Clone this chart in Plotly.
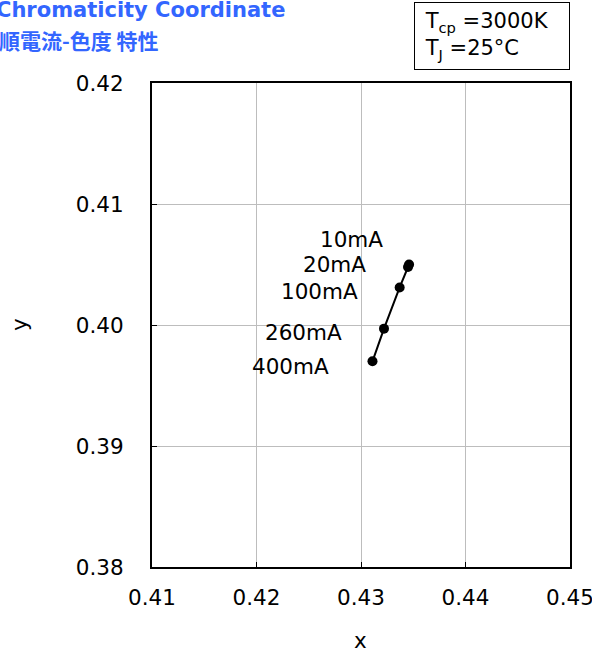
import plotly.graph_objects as go

currents = ["10mA", "20mA", "100mA", "260mA", "400mA"]
cx = [0.4346, 0.4345, 0.4337, 0.4322, 0.4311]
cy = [0.4050, 0.4048, 0.4031, 0.3997, 0.3970]
label_dx = [-24, -40, -40, -40, -41]
label_dy = [25, 2, -4, -4, -5]

x_ticks = [0.41, 0.42, 0.43, 0.44, 0.45]
y_ticks = [0.38, 0.39, 0.40, 0.41, 0.42]

font_main = "DejaVu Sans, Verdana, sans-serif"
FS = 21.5

fig = go.Figure()
fig.add_trace(go.Scatter(
    x=cx, y=cy, mode="lines+markers",
    line=dict(color="black", width=2),
    marker=dict(color="black", size=10),
    showlegend=False, hoverinfo="skip",
))

ann = []
for lab, x, y, dx, dy in zip(currents, cx, cy, label_dx, label_dy):
    ann.append(dict(x=x, y=y, xref="x", yref="y", text=lab, showarrow=False,
                    xanchor="right", yanchor="middle", xshift=dx, yshift=dy,
                    font=dict(size=FS, color="black", family=font_main)))

# plot area: 418 x 484 px, origin at (152, 567)
def px(x):
    return (x - 152) / 418.0

def py(y):
    return (567 - y) / 484.0

ann.append(dict(xref="paper", yref="paper", x=px(-6), y=py(10), xanchor="left", yanchor="middle",
                text="<b>Chromaticity Coordinate</b>", showarrow=False,
                font=dict(size=21, color="#3366FF", family=font_main)))
ann.append(dict(xref="paper", yref="paper", x=px(-3), y=py(40), xanchor="left", yanchor="middle",
                text="<b>順電流-色度 特性</b>", showarrow=False,
                font=dict(size=21, color="#3366FF", family="Noto Sans CJK JP")))
ann.append(dict(xref="paper", yref="paper", x=px(570), y=py(2), xanchor="right", yanchor="top",
                text="&nbsp;T<sub>cp</sub> =3000K<br>&nbsp;T<sub>J</sub> =25°C", showarrow=False,
                align="left", width=146, height=58, valign="middle",
                bordercolor="black", borderwidth=1, borderpad=4, bgcolor="white",
                font=dict(size=21, color="black", family=font_main)))
ann.append(dict(xref="paper", yref="paper", x=px(19), y=py(325), xanchor="center", yanchor="middle",
                text="y", textangle=-90, showarrow=False,
                font=dict(size=FS, color="black", family=font_main)))
ann.append(dict(xref="paper", yref="paper", x=px(360), y=py(640), xanchor="center", yanchor="middle",
                text="x", showarrow=False,
                font=dict(size=FS, color="black", family=font_main)))

fig.update_layout(
    width=592, height=650,
    margin=dict(l=152, r=22, t=83, b=83, autoexpand=False),
    paper_bgcolor="white", plot_bgcolor="white",
    annotations=ann,
    font=dict(family=font_main, size=FS, color="black"),
)
fig.update_xaxes(range=[0.41, 0.45], tickvals=x_ticks, ticktext=[f"{v:.2f}" for v in x_ticks],
                 showgrid=True, gridcolor="#bdbdbd", gridwidth=1,
                 showline=True, linecolor="black", linewidth=2, mirror=True,
                 zeroline=False, ticks="inside", ticklen=5, tickcolor="black",
                 ticklabelstandoff=10, automargin=False, ticklabeloverflow="allow",
                 tickfont=dict(size=FS))
fig.update_yaxes(range=[0.38, 0.42], tickvals=y_ticks, ticktext=[f"{v:.2f}" for v in y_ticks],
                 showgrid=True, gridcolor="#bdbdbd", gridwidth=1,
                 showline=True, linecolor="black", linewidth=2, mirror=True,
                 zeroline=False, ticks="inside", ticklen=5, tickcolor="black",
                 ticklabelstandoff=22, automargin=False, ticklabeloverflow="allow",
                 tickfont=dict(size=FS))

fig.write_html("out.html", config={"displayModeBar": False},
               post_script="document.body.style.margin='0px';")
